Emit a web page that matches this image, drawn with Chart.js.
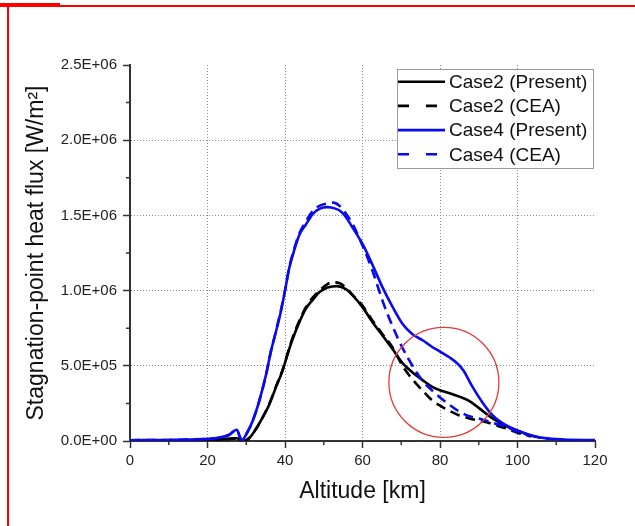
<!DOCTYPE html>
<html lang="en">
<head>
  <meta charset="UTF-8" />
  <title>Stagnation-point heat flux vs altitude</title>
  <script src="https://cdn.jsdelivr.net/npm/chart.js"></script>
  <style>
    body {
      margin: 0;
      background: #fff;
    }
    .wrap {
      position: relative;
      width: 635px;
      height: 526px;
    }
    canvas {
      position: absolute;
      left: 0;
      top: 0;
    }
    /* red markup lines around the figure */
    .red-tab  { position: absolute; left: 0; top: 3px; width: 60px; height: 2px; background: #f00; }
    .red-top  { position: absolute; left: 0; top: 5px; width: 635px; height: 2px; background: #f00; }
    .red-left { position: absolute; left: 7px; top: 5px; width: 2px; height: 521px; background: #f00; }
  </style>
</head>
<body>
  <div class="wrap">
    <canvas id="flux" width="635" height="526"></canvas>
    <div class="red-tab"></div>
    <div class="red-top"></div>
    <div class="red-left"></div>
  </div>

  <script>
    // altitude [km] and stagnation-point heat flux [W/m^2]
    const case2PresentAlt = [0, 5, 10, 15, 20, 23, 25.5, 27.6, 28.5, 29.3, 30.8, 32.5, 34.2, 35.9, 37.7, 39.4, 40.7, 42, 43.7, 45.4, 47.2, 48.9, 51, 53.5, 55.7, 57.4, 60, 62.6, 65.2, 67.8, 70.3, 72.9, 75.5, 78, 80, 82.5, 85, 87.6, 90, 93.6, 97, 100, 103, 106];
    const case2PresentFlux = [0.003e6, 0.003e6, 0.004e6, 0.005e6, 0.007e6, 0.01e6, 0.014e6, 0.018e6, 0.008e6, 0, 0.02e6, 0.08e6, 0.155e6, 0.24e6, 0.36e6, 0.47e6, 0.58e6, 0.68e6, 0.79e6, 0.88e6, 0.94e6, 0.99e6, 1.02e6, 1.03e6, 1.01e6, 0.97e6, 0.89e6, 0.79e6, 0.70e6, 0.61e6, 0.52e6, 0.456e6, 0.405e6, 0.36e6, 0.338e6, 0.318e6, 0.295e6, 0.265e6, 0.22e6, 0.15e6, 0.10e6, 0.069e6, 0.04e6, 0.02e6];

    const case2CeaAlt = [0, 5, 10, 15, 20, 23, 25.5, 27.6, 28.5, 29.3, 30.8, 32.5, 34.2, 35.9, 37.7, 39.4, 40.7, 42, 43.7, 45.4, 47.2, 48.9, 50.5, 52.2, 54, 55.7, 57.5, 60, 62.6, 65.2, 67.8, 70.3, 72.9, 75.5, 78, 80, 82.5, 85, 87.6, 90, 92, 95, 97, 100, 103.5];
    const case2CeaFlux = [0.003e6, 0.003e6, 0.004e6, 0.005e6, 0.007e6, 0.01e6, 0.014e6, 0.018e6, 0.008e6, 0, 0.02e6, 0.08e6, 0.155e6, 0.245e6, 0.365e6, 0.475e6, 0.585e6, 0.69e6, 0.8e6, 0.89e6, 0.955e6, 1.0e6, 1.035e6, 1.055e6, 1.05e6, 1.02e6, 0.97e6, 0.90e6, 0.80e6, 0.71e6, 0.62e6, 0.50e6, 0.41e6, 0.335e6, 0.27e6, 0.235e6, 0.20e6, 0.17e6, 0.15e6, 0.135e6, 0.125e6, 0.10e6, 0.084e6, 0.055e6, 0.03e6];

    const case4PresentAlt = [0, 5, 10, 15, 20, 23, 25.5, 27.6, 28.3, 28.9, 30, 31.6, 33.4, 35.1, 36.4, 37.7, 39, 40, 41.1, 42.4, 43.7, 45.4, 47.2, 49, 51, 53, 54.5, 55.7, 57.4, 60, 62.6, 65.2, 67.8, 70.3, 72.9, 75.5, 78, 80, 82.5, 84.5, 86, 88.4, 91, 93.6, 97, 100, 103, 107, 112, 120];
    const case4PresentFlux = [0.005e6, 0.006e6, 0.007e6, 0.009e6, 0.014e6, 0.022e6, 0.04e6, 0.075e6, 0.03e6, 0.005e6, 0.045e6, 0.13e6, 0.27e6, 0.44e6, 0.6e6, 0.73e6, 0.87e6, 1.0e6, 1.15e6, 1.27e6, 1.37e6, 1.44e6, 1.51e6, 1.545e6, 1.555e6, 1.545e6, 1.525e6, 1.49e6, 1.42e6, 1.31e6, 1.17e6, 1.02e6, 0.89e6, 0.78e6, 0.71e6, 0.67e6, 0.625e6, 0.595e6, 0.555e6, 0.515e6, 0.47e6, 0.36e6, 0.255e6, 0.17e6, 0.105e6, 0.07e6, 0.042e6, 0.019e6, 0.01e6, 0.006e6];

    const case4CeaAlt = [0, 5, 10, 15, 20, 23, 25.5, 27.6, 28.3, 28.9, 30, 31.6, 33.4, 35.1, 36.4, 37.7, 39, 40, 41.1, 42.4, 43.7, 45.4, 47.2, 49, 51, 52.5, 54, 55.5, 57.5, 60, 62.6, 65.2, 67.8, 70.3, 72.9, 75.5, 78, 80, 82.5, 85, 87.6, 90, 92, 95, 97, 100, 103.5];
    const case4CeaFlux = [0.005e6, 0.006e6, 0.007e6, 0.009e6, 0.014e6, 0.022e6, 0.04e6, 0.074e6, 0.03e6, 0.005e6, 0.045e6, 0.13e6, 0.27e6, 0.44e6, 0.6e6, 0.735e6, 0.875e6, 1.0e6, 1.155e6, 1.28e6, 1.38e6, 1.46e6, 1.53e6, 1.565e6, 1.58e6, 1.585e6, 1.565e6, 1.52e6, 1.44e6, 1.30e6, 1.13e6, 0.93e6, 0.76e6, 0.62e6, 0.50e6, 0.40e6, 0.335e6, 0.29e6, 0.24e6, 0.195e6, 0.165e6, 0.15e6, 0.135e6, 0.11e6, 0.095e6, 0.062e6, 0.035e6];

    const xMinorTicks = [10, 30, 50, 70, 90, 110];
    const yMinorTicks = [0.25e6, 0.75e6, 1.25e6, 1.75e6, 2.25e6];

    const FONT = '"Liberation Sans", Arial, sans-serif';
    const BLUE = '#0a0af0';
    const GRID = '#8c8c8c';
    const AXIS = '#333';

    const pts = (xs, ys) => xs.map((x, i) => ({ x, y: ys[i] }));

    // 2.5E+06 style labels
    const sci = v => {
      const [m, e] = Number(v).toExponential(1).split('e');
      return m + 'E' + e[0] + e.slice(1).padStart(2, '0');
    };

    // short minor ticks between the labelled ones
    const minorTicks = {
      id: 'minorTicks',
      afterDraw(chart) {
        const { ctx, scales: { x, y } } = chart;
        ctx.save();
        ctx.strokeStyle = AXIS;
        ctx.lineWidth = 1.5;
        ctx.beginPath();
        xMinorTicks.forEach(v => {
          const px = x.getPixelForValue(v);
          ctx.moveTo(px, x.top);
          ctx.lineTo(px, x.top + 4);
        });
        yMinorTicks.forEach(v => {
          const py = y.getPixelForValue(v);
          ctx.moveTo(y.right, py);
          ctx.lineTo(y.right - 4, py);
        });
        ctx.stroke();
        ctx.restore();
      }
    };

    // boxed legend in the upper right corner of the plot
    const boxLegend = {
      id: 'boxLegend',
      afterDatasetsDraw(chart) {
        const { ctx } = chart;
        const left = 397, top = 69, w = 196, h = 99, rowH = 24.2;
        ctx.save();
        ctx.fillStyle = '#fff';
        ctx.fillRect(left, top, w, h);
        ctx.strokeStyle = '#9a9a9a';
        ctx.lineWidth = 1;
        ctx.strokeRect(left + 0.5, top + 0.5, w, h);
        ctx.font = '19px ' + FONT;
        ctx.textBaseline = 'middle';
        chart.data.datasets.forEach((ds, i) => {
          const cy = top + 12.7 + rowH * i;
          ctx.strokeStyle = ds.borderColor;
          ctx.lineWidth = ds.borderWidth;
          ctx.setLineDash(ds.borderDash.length ? [11, 17] : []);
          ctx.beginPath();
          ctx.moveTo(left + 1, cy);
          ctx.lineTo(left + 48, cy);
          ctx.stroke();
          ctx.setLineDash([]);
          ctx.fillStyle = '#111';
          ctx.fillText(ds.label, left + 52, cy + 1);
        });
        ctx.restore();
      }
    };

    // red ring around the 70-95 km region
    const ring = {
      id: 'ring',
      afterDraw(chart) {
        const { ctx, scales: { x, y } } = chart;
        ctx.save();
        ctx.strokeStyle = '#e23a3a';
        ctx.lineWidth = 1.3;
        ctx.beginPath();
        ctx.arc(x.getPixelForValue(81), y.getPixelForValue(0.39e6), 55, 0, Math.PI * 2);
        ctx.stroke();
        ctx.restore();
      }
    };

    new Chart(document.getElementById('flux'), {
      type: 'line',
      data: {
        datasets: [
          { label: 'Case2 (Present)', data: pts(case2PresentAlt, case2PresentFlux), borderColor: '#000', borderWidth: 2.6, borderDash: [], order: 3 },
          { label: 'Case2 (CEA)', data: pts(case2CeaAlt, case2CeaFlux), borderColor: '#000', borderWidth: 2.6, borderDash: [10, 6], order: 4 },
          { label: 'Case4 (Present)', data: pts(case4PresentAlt, case4PresentFlux), borderColor: BLUE, borderWidth: 2.6, borderDash: [], order: 1 },
          { label: 'Case4 (CEA)', data: pts(case4CeaAlt, case4CeaFlux), borderColor: BLUE, borderWidth: 2.6, borderDash: [10, 6], order: 2 }
        ]
      },
      options: {
        responsive: false,
        animation: false,
        devicePixelRatio: 1,
        layout: { padding: { top: 65, right: 40, left: 0, bottom: 0 } },
        elements: {
          point: { radius: 0 },
          line: { cubicInterpolationMode: 'monotone', fill: false }
        },
        plugins: {
          legend: { display: false },
          tooltip: { enabled: false }
        },
        scales: {
          x: {
            type: 'linear',
            min: 0,
            max: 120,
            afterFit: s => { s.height = 85; },
            ticks: { stepSize: 20, color: '#222', font: { family: FONT, size: 15 }, padding: 4, maxRotation: 0 },
            grid: {
              color: c => (c.tick && c.tick.value > 0 && c.tick.value < 120) ? GRID : 'rgba(0,0,0,0)',
              tickColor: AXIS,
              tickWidth: 1.5,
              tickLength: 7
            },
            border: { color: AXIS, width: 2, dash: [1, 2] },
            title: { display: true, text: 'Altitude [km]', color: '#111', font: { family: FONT, size: 23 }, padding: { top: 0, bottom: 21 } }
          },
          y: {
            min: 0,
            max: 2.5e6,
            afterFit: s => { s.width = 130; },
            ticks: { stepSize: 0.5e6, callback: sci, color: '#222', font: { family: FONT, size: 15 }, padding: 6 },
            grid: {
              color: c => (c.tick && c.tick.value > 0 && c.tick.value < 2.5e6) ? GRID : 'rgba(0,0,0,0)',
              tickColor: AXIS,
              tickWidth: 1.5,
              tickLength: 7
            },
            border: { color: AXIS, width: 2, dash: [1, 2] },
            title: { display: true, text: 'Stagnation-point heat flux [W/m²]', color: '#111', font: { family: FONT, size: 23 }, padding: { top: 23, bottom: 0 } }
          }
        }
      },
      plugins: [boxLegend, minorTicks, ring]
    });
  </script>
</body>
</html>
